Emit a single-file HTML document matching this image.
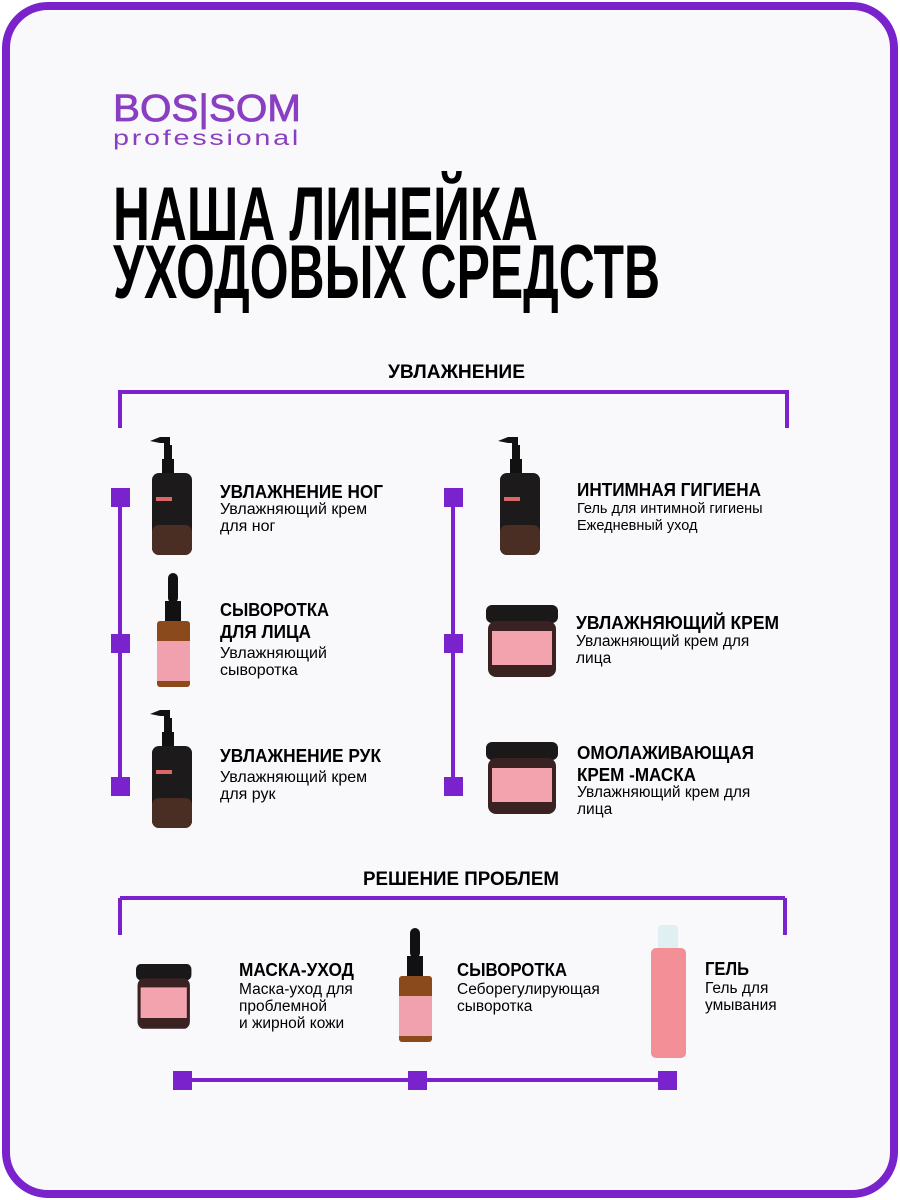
<!DOCTYPE html>
<html><head><meta charset="utf-8"><style>
html,body{margin:0;padding:0;background:#fff}
svg{display:block}
text{font-family:"Liberation Sans",sans-serif}
</style></head><body>
<svg width="900" height="1200" viewBox="0 0 900 1200" xmlns="http://www.w3.org/2000/svg">
<rect x="0" y="0" width="900" height="1200" fill="#fff"/>
<rect x="6" y="6" width="888" height="1188" rx="42" fill="#f9f9fb" stroke="#7a22cc" stroke-width="8"/>

<!-- logo -->
<text x="113" y="121" font-size="38" fill="#8a3fc2" stroke="#8a3fc2" stroke-width="0.8" textLength="188" lengthAdjust="spacingAndGlyphs">BOS|SOM</text>
<text x="113" y="145" font-size="21" fill="#8a3fc2" textLength="188" lengthAdjust="spacingAndGlyphs" letter-spacing="2">professional</text>

<!-- title -->
<text x="113" y="240" font-size="76" font-weight="bold" fill="#000" textLength="425" lengthAdjust="spacingAndGlyphs">НАША ЛИНЕЙКА</text>
<text x="113" y="298" font-size="76" font-weight="bold" fill="#000" textLength="547" lengthAdjust="spacingAndGlyphs">УХОДОВЫХ СРЕДСТВ</text>

<!-- section 1 -->
<text x="388" y="378" font-size="19" font-weight="bold" textLength="137" lengthAdjust="spacingAndGlyphs">УВЛАЖНЕНИЕ</text>
<g stroke="#7a22cc" stroke-width="4" fill="none">
<polyline points="120,428 120,392 787,392 787,428"/>
<line x1="120" y1="497" x2="120" y2="786"/>
<line x1="453" y1="497" x2="453" y2="786"/>
<polyline points="120,898 120,935"/><line x1="120" y1="898" x2="785" y2="898"/><line x1="785" y1="898" x2="785" y2="935"/>
<line x1="182" y1="1080" x2="667" y2="1080"/>
</g>
<g fill="#7a22cc">
<rect x="111" y="488" width="19" height="19"/><rect x="111" y="634" width="19" height="19"/><rect x="111" y="777" width="19" height="19"/>
<rect x="444" y="488" width="19" height="19"/><rect x="444" y="634" width="19" height="19"/><rect x="444" y="777" width="19" height="19"/>
<rect x="173" y="1071" width="19" height="19"/><rect x="408" y="1071" width="19" height="19"/><rect x="658" y="1071" width="19" height="19"/>
</g>

<defs>
<g id="pump">
<path d="M2,4 L12,0 L22,0 L22,8 L24,8 L24,22 L26,22 L26,36 L14,36 L14,22 L16,22 L16,6 L12,6 Z" fill="#111"/>
<rect x="4" y="36" width="40" height="82" rx="7" fill="#1c1a1a"/>
<rect x="4" y="88" width="40" height="30" rx="7" fill="#4a2e24"/>
<rect x="8" y="60" width="16" height="4" fill="#d66"/>
</g>
<g id="drop">
<rect x="13" y="0" width="10" height="30" rx="5" fill="#111"/>
<rect x="10" y="28" width="16" height="22" fill="#111"/>
<rect x="2" y="48" width="33" height="66" rx="3" fill="#8a4a1c"/>
<rect x="2" y="68" width="33" height="40" fill="#f1a0ae"/>
</g>
<g id="jar">
<rect x="0" y="0" width="72" height="18" rx="6" fill="#1a1818"/>
<rect x="2" y="16" width="68" height="56" rx="8" fill="#3a2222"/>
<rect x="6" y="26" width="60" height="34" fill="#f3a3ae"/>
</g>
</defs>

<use href="#pump" x="148" y="437"/>
<use href="#drop" x="155" y="573"/>
<use href="#pump" x="148" y="710"/>
<use href="#pump" x="496" y="437"/>
<use href="#jar" x="486" y="605"/>
<use href="#jar" x="486" y="742"/>
<g transform="translate(136,964) scale(0.77,0.9)"><use href="#jar"/></g>
<use href="#drop" x="397" y="928"/>
<g>
<rect x="658" y="925" width="20" height="26" rx="3" fill="#dfeff2"/>
<rect x="651" y="948" width="35" height="110" rx="5" fill="#f28f97"/>
</g>

<g fill="#000">
<text x="220" y="498" font-size="18" font-weight="bold" textLength="163" lengthAdjust="spacingAndGlyphs">УВЛАЖНЕНИЕ НОГ</text>
<text x="220" y="514" font-size="16">Увлажняющий крем</text>
<text x="220" y="531" font-size="16">для ног</text>

<text x="220" y="616" font-size="18" font-weight="bold" textLength="109" lengthAdjust="spacingAndGlyphs">СЫВОРОТКА</text>
<text x="220" y="638" font-size="18" font-weight="bold" textLength="91" lengthAdjust="spacingAndGlyphs">ДЛЯ ЛИЦА</text>
<text x="220" y="658" font-size="16">Увлажняющий</text>
<text x="220" y="675" font-size="16">сыворотка</text>

<text x="220" y="762" font-size="18" font-weight="bold" textLength="161" lengthAdjust="spacingAndGlyphs">УВЛАЖНЕНИЕ РУК</text>
<text x="220" y="782" font-size="16">Увлажняющий крем</text>
<text x="220" y="799" font-size="16">для рук</text>

<text x="577" y="496" font-size="18" font-weight="bold" textLength="184" lengthAdjust="spacingAndGlyphs">ИНТИМНАЯ ГИГИЕНА</text>
<text x="577" y="513" font-size="14.5">Гель для интимной гигиены</text>
<text x="577" y="530" font-size="14.5">Ежедневный уход</text>

<text x="576" y="629" font-size="18" font-weight="bold" textLength="203" lengthAdjust="spacingAndGlyphs">УВЛАЖНЯЮЩИЙ КРЕМ</text>
<text x="576" y="646" font-size="15.5">Увлажняющий крем для</text>
<text x="576" y="663" font-size="15.5">лица</text>

<text x="577" y="759" font-size="18" font-weight="bold" textLength="177" lengthAdjust="spacingAndGlyphs">ОМОЛАЖИВАЮЩАЯ</text>
<text x="577" y="781" font-size="18" font-weight="bold" textLength="119" lengthAdjust="spacingAndGlyphs">КРЕМ -МАСКА</text>
<text x="577" y="797" font-size="15.5">Увлажняющий крем для</text>
<text x="577" y="814" font-size="15.5">лица</text>

<text x="363" y="885" font-size="19" font-weight="bold" textLength="196" lengthAdjust="spacingAndGlyphs">РЕШЕНИЕ ПРОБЛЕМ</text>

<text x="239" y="976" font-size="18" font-weight="bold" textLength="115" lengthAdjust="spacingAndGlyphs">МАСКА-УХОД</text>
<text x="239" y="994" font-size="15.5">Маска-уход для</text>
<text x="239" y="1011" font-size="15.5">проблемной</text>
<text x="239" y="1028" font-size="15.5">и жирной кожи</text>

<text x="457" y="976" font-size="18" font-weight="bold" textLength="110" lengthAdjust="spacingAndGlyphs">СЫВОРОТКА</text>
<text x="457" y="994" font-size="15.5">Себорегулирующая</text>
<text x="457" y="1011" font-size="15.5">сыворотка</text>

<text x="705" y="975" font-size="18" font-weight="bold" textLength="44" lengthAdjust="spacingAndGlyphs">ГЕЛЬ</text>
<text x="705" y="993" font-size="15.5">Гель для</text>
<text x="705" y="1010" font-size="15.5">умывания</text>
</g>
</svg>
</body></html>
